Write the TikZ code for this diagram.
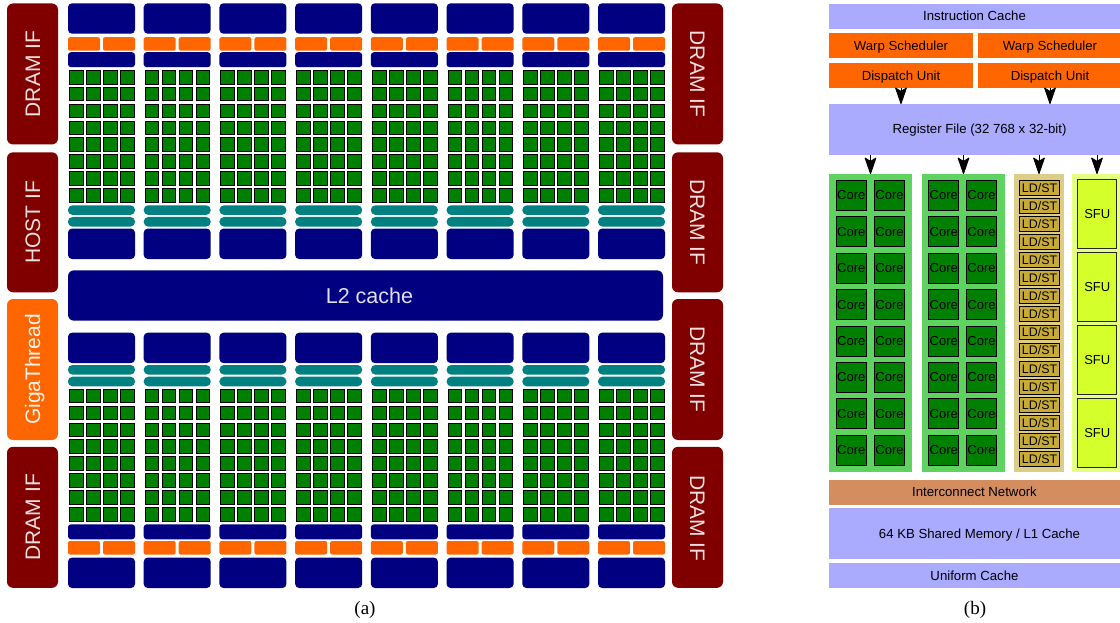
\documentclass[tikz,border=0pt]{standalone}
\usepackage{fontspec}
\setmainfont{Liberation Sans}
\newfontfamily\capfont{Liberation Serif}
\usetikzlibrary{arrows.meta}
\definecolor{navyblk}{HTML}{000080}
\definecolor{orangeblk}{HTML}{FF6600}
\definecolor{ifred}{HTML}{800000}
\definecolor{tealblk}{HTML}{008080}
\definecolor{coregreen}{HTML}{008000}
\definecolor{bankgreen}{HTML}{5FD35F}
\definecolor{cacheblue}{HTML}{AAAAFF}
\definecolor{ldback}{HTML}{DECD87}
\definecolor{ldfill}{HTML}{C8AB37}
\definecolor{sfuback}{HTML}{E5FF80}
\definecolor{sfufill}{HTML}{D4FF2A}
\definecolor{netbrown}{HTML}{D38D5F}
\tikzset{
  blk/.style={rectangle, anchor=north west, inner sep=0pt, outer sep=0pt},
  navybig/.style={blk, fill=navyblk, rounded corners=4pt, minimum width=67pt, minimum height=30.4pt},
  navysmall/.style={blk, fill=navyblk, rounded corners=3pt, minimum width=67pt, minimum height=15pt},
  orangebit/.style={blk, fill=orangeblk, rounded corners=2pt, minimum width=32pt, minimum height=13.5pt},
  tealbar/.style={blk, fill=tealblk, rounded corners=4.5pt, minimum width=67pt, minimum height=9.6pt},
  coresq/.style={blk, fill=coregreen, draw=black, line width=0.9pt, minimum width=13.6pt, minimum height=13.6pt},
  ifbox/.style={rectangle, fill=ifred, text=white!88!ifred, rounded corners=6pt, inner sep=0pt,
    minimum width=141pt, minimum height=51pt, text height=15pt, text depth=0pt, font=\fontsize{21}{21}\selectfont},
  bar/.style={blk, font=\fontsize{13.2}{13.2}\selectfont, minimum height=25pt, text height=9.4pt, text depth=0pt},
  bank/.style={blk, fill=bankgreen, minimum width=83pt, minimum height=298pt},
  corebox/.style={blk, fill=coregreen, draw=black, line width=1pt, minimum width=30pt, minimum height=30pt,
    font=\fontsize{13}{13}\selectfont},
  ldbox/.style={blk, fill=ldfill, draw=black, line width=1pt, minimum width=39.5pt, minimum height=14.8pt,
    font=\fontsize{12.4}{12.4}\selectfont},
  sfubox/.style={blk, fill=sfufill, draw=black!85, line width=1pt, minimum width=39pt, minimum height=69pt,
    font=\fontsize{13}{13}\selectfont},
  feed/.style={-{Stealth[scale length=2.4, scale width=2.2, inset=1.6pt, round]}, line width=1pt},
  subcap/.style={inner sep=0pt, font=\capfont\fontsize{19}{19}\selectfont}
}
% 8 rows of 4 squares, first row at y=#1
\newcommand{\coregrid}[2]{
  \foreach \r in {0,...,7}
    \foreach \c in {0,...,3}
      \node[coresq] (#2-\c-\r) at ({69.5+\c*17},{#1+\r*16.88}) {};
}
\begin{document}
\begin{tikzpicture}[x=1pt, y=-1pt]
  \useasboundingbox (0,0) rectangle (1120,623);

  % (a) interface blocks
  \node[ifbox, rotate=90] (ifa) at (32.5,74) {DRAM IF\hspace{1pt}};
  \node[ifbox, rotate=90, minimum width=140pt] (ifb) at (32.5,222.3) {HOST IF\hspace{4.4pt}};
  \node[ifbox, rotate=90, fill=orangeblk, text=white!92!orangeblk] (ifc) at (32.5,369.5) {GigaThread\hspace{3pt}};
  \node[ifbox, rotate=90] (ifd) at (32.5,517.3) {DRAM IF\hspace{2pt}};
  \node[ifbox, rotate=-90] (ife) at (697.5,74) {DRAM IF};
  \node[ifbox, rotate=-90, minimum width=140pt] (iff) at (697.5,222.3) {DRAM IF};
  \node[ifbox, rotate=-90] (ifg) at (697.5,369.5) {DRAM IF\hspace{5.6pt}};
  \node[ifbox, rotate=-90] (ifh) at (697.5,517.3) {\hspace{2pt}DRAM IF};

  % (a) the columns
  \foreach \i in {0,...,7} {
    \begin{scope}[xshift=\i*75.72pt]
      \node[navybig] (topa\i) at (68,3.3) {};
      \node[orangebit] (topb\i) at (68,37.2) {};
      \node[orangebit] (topc\i) at (103,37.2) {};
      \node[navysmall] (topd\i) at (68,52.2) {};
      \coregrid{70.4}{topcore\i}
      \node[tealbar] (tope\i) at (68,205.3) {};
      \node[tealbar] (topf\i) at (68,217) {};
      \node[navybig] (topg\i) at (68,228.6) {};

      \node[navybig] (bota\i) at (68,332.7) {};
      \node[tealbar] (botb\i) at (68,365) {};
      \node[tealbar] (botc\i) at (68,376.7) {};
      \coregrid{389.2}{botcore\i}
      \node[navysmall] (botd\i) at (68,524.3) {};
      \node[orangebit] (bote\i) at (68,541) {};
      \node[orangebit] (botf\i) at (103,541) {};
      \node[navybig] (botg\i) at (68,557.6) {};
    \end{scope}
  }
  \node[blk, fill=navyblk, text=white!88!navyblk, rounded corners=6pt, minimum width=595pt, minimum height=50.4pt,
    font=\fontsize{21.5}{21.5}\selectfont] (ltwo) at (68,270.3) {\hspace{8pt}L2 cache};

  % (b) the core
  \node[bar, fill=cacheblue, minimum width=291pt, text depth=2pt] (icache) at (829,4) {Instruction Cache};
  \node[bar, fill=orangeblk, minimum width=144pt] (warpa) at (829,33) {Warp Scheduler};
  \node[bar, fill=orangeblk, minimum width=144pt] (warpb) at (978,33) {Warp Scheduler};
  \node[bar, fill=orangeblk, minimum width=144pt] (dispa) at (829,63) {Dispatch Unit\hspace{2pt}};
  \node[bar, fill=orangeblk, minimum width=144pt] (dispb) at (978,63) {Dispatch Unit\hspace{2pt}};
  \node[bar, fill=cacheblue, minimum width=301pt, minimum height=51pt, text depth=2pt] (regfile) at (829,104) {Register File (32 768 x 32-bit)};

  \node[bank] (banka) at (829,174) {};
  \node[bank] (bankb) at (922,174) {};
  \node[bank, fill=ldback, minimum width=50pt] (ldbank) at (1014,174) {};
  \node[bank, fill=sfuback, minimum width=50pt] (sfubank) at (1072,174) {};

  \foreach \r in {0,...,7} {
    \node[corebox] (corea\r) at (836.3,{180.5+\r*36.4}) {Core};
    \node[corebox] (coreb\r) at (874.5,{180.5+\r*36.4}) {Core};
    \node[corebox] (corec\r) at (928.8,{180.5+\r*36.4}) {Core};
    \node[corebox] (cored\r) at (966.5,{180.5+\r*36.4}) {Core};
  }
  \foreach \r in {0,...,15}
    \node[ldbox] (ld\r) at (1019.8,{180.5+\r*18.07}) {LD/ST};
  \foreach \r in {0,...,3}
    \node[sfubox] (sfu\r) at (1077.8,{179.5+\r*72.85}) {SFU};

  \node[bar, fill=netbrown, minimum width=291pt, text depth=2pt] (inter) at (829,480) {Interconnect Network};
  \node[bar, fill=cacheblue, minimum width=301pt, minimum height=51pt] (shared) at (829,508) {64 KB Shared Memory / L1 Cache};
  \node[bar, fill=cacheblue, minimum width=291pt] (ucache) at (829,563) {Uniform Cache};

  \draw[feed] (dispa) -- (dispa |- regfile.north);
  \draw[feed] (dispb) -- (dispb |- regfile.north);
  \draw[feed] (banka |- regfile.south) -- (banka.north);
  \draw[feed] (bankb |- regfile.south) -- (bankb.north);
  \draw[feed] (ldbank |- regfile.south) -- (ldbank.north);
  \draw[feed] (sfubank |- regfile.south) -- (sfubank.north);

  \node[subcap] (capa) at (365,610) {(a)};
  \node[subcap] (capb) at (975,610) {(b)};
\end{tikzpicture}
\end{document}
